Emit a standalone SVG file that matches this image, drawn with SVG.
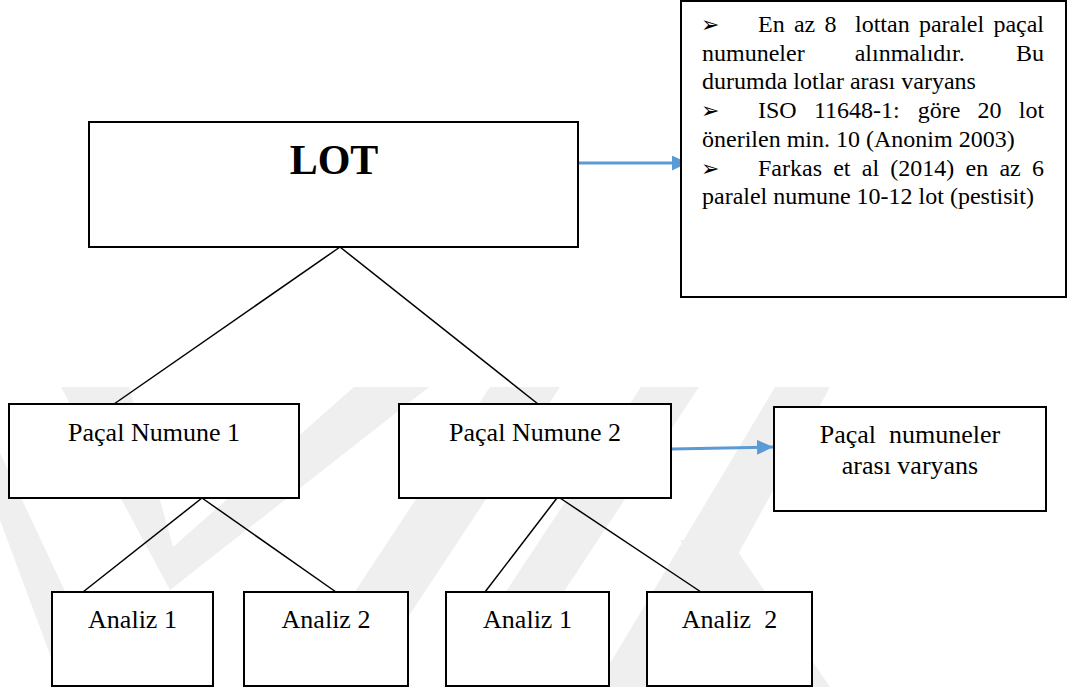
<svg xmlns="http://www.w3.org/2000/svg" width="1067" height="687" viewBox="0 0 1067 687">
  <defs>
    <style>
      .wm { fill: #efefef; stroke: none; }
      .box { fill: #ffffff; stroke: #000000; stroke-width: 2; }
      .t { font-family: 'Liberation Serif', 'Times New Roman', serif; font-size: 26px; fill: #000000; text-anchor: middle; }
      .tb { font-family: 'Liberation Serif', 'Times New Roman', serif; font-size: 24px; fill: #000000; }
      .bul { font-family: 'DejaVu Sans', sans-serif; font-size: 22px; fill: #000000; }
      .lotx { font-family: 'Liberation Serif', 'Times New Roman', serif; font-size: 42px; font-weight: bold; fill: #000000; text-anchor: middle; }
      .ln { stroke: #000000; stroke-width: 1.5; fill: none; }
      .arr { stroke: #5B9BD5; stroke-width: 3; fill: none; marker-end: url(#ah); }
    </style>
    <marker id="ah" markerUnits="userSpaceOnUse" viewBox="0 0 16 15" markerWidth="16" markerHeight="15" refX="16" refY="7.5" orient="auto">
      <path d="M0,0 L16,7.5 L0,15 z" fill="#5B9BD5"/>
    </marker>
  </defs>

  <rect width="1067" height="687" fill="#ffffff"/>

  <g id="watermark">
    <polygon class="wm" points="61,387 129,387 173,547 354,387 429,387 170,590"/>
    <polygon class="wm" points="490,387 560,387 362,687 292,687"/>
    <polygon class="wm" points="641,387 699,387 501,687 443,687"/>
    <polygon class="wm" points="775,387 830,387 665,687 596,687"/>
    <polygon class="wm" points="680,540 730,540 830,687 768,687"/>
    <polygon class="wm" points="0,453 0,520 62,687 110,687"/>
  </g>

  <g id="connectors">
    <line class="ln" x1="340" y1="247" x2="114" y2="404"/>
    <line class="ln" x1="340" y1="247" x2="538" y2="404"/>
    <line class="ln" x1="202" y1="498" x2="83" y2="592"/>
    <line class="ln" x1="202" y1="498" x2="336" y2="592"/>
    <line class="ln" x1="557" y1="498" x2="485" y2="592"/>
    <line class="ln" x1="560" y1="498" x2="701" y2="592"/>
    <line class="arr" x1="579" y1="163" x2="688" y2="163"/>
    <line class="arr" x1="672" y1="449" x2="773" y2="447"/>
  </g>

  <g id="lot">
    <rect class="box" x="89" y="122" width="489" height="125"/>
    <text class="lotx" x="334" y="174">LOT</text>
  </g>

  <g id="note">
    <rect class="box" x="681" y="1" width="385" height="296"/>
    <text class="bul" x="701" y="32">➢</text>
    <text class="tb" y="32"><tspan x="758">En</tspan><tspan x="793.9">az</tspan><tspan x="824.5">8</tspan><tspan x="855">lottan</tspan><tspan x="918.9">paralel</tspan><tspan x="993.4">paçal</tspan></text>
    <text class="tb" y="60.7"><tspan x="702">numuneler</tspan><tspan x="854.7">alınmalıdır.</tspan><tspan x="1016">Bu</tspan></text>
    <text class="tb" x="702" y="89.4">durumda lotlar arası varyans</text>
    <text class="bul" x="701" y="118">➢</text>
    <text class="tb" y="118.1"><tspan x="758">ISO</tspan><tspan x="813.9">11648-1:</tspan><tspan x="917.8">göre</tspan><tspan x="977.6">20</tspan><tspan x="1018.8">lot</tspan></text>
    <text class="tb" x="702" y="146.8">önerilen min. 10 (Anonim 2003)</text>
    <text class="bul" x="701" y="175.5">➢</text>
    <text class="tb" y="175.5"><tspan x="758">Farkas</tspan><tspan x="833.2">et</tspan><tspan x="861.8">al</tspan><tspan x="890.3">(2014)</tspan><tspan x="965.5">en</tspan><tspan x="999.4">az</tspan><tspan x="1032">6</tspan></text>
    <text class="tb" x="702" y="204.2">paralel numune 10-12 lot (pestisit)</text>
  </g>

  <g id="pacal1">
    <rect class="box" x="9" y="404" width="290" height="94"/>
    <text class="t" x="154" y="441">Paçal Numune 1</text>
  </g>

  <g id="pacal2">
    <rect class="box" x="399" y="404" width="272" height="94"/>
    <text class="t" x="535" y="441">Paçal Numune 2</text>
  </g>

  <g id="varyans">
    <rect class="box" x="774" y="407" width="272" height="104"/>
    <text class="t" x="910" y="443" xml:space="preserve">Paçal  numuneler</text>
    <text class="t" x="910" y="474">arası varyans</text>
  </g>

  <g id="analiz1a">
    <rect class="box" x="52" y="592" width="161" height="94"/>
    <text class="t" x="132.5" y="628">Analiz 1</text>
  </g>

  <g id="analiz2a">
    <rect class="box" x="244" y="592" width="164" height="94"/>
    <text class="t" x="326" y="628">Analiz 2</text>
  </g>

  <g id="analiz1b">
    <rect class="box" x="446" y="592" width="163" height="94"/>
    <text class="t" x="527.5" y="628">Analiz 1</text>
  </g>

  <g id="analiz2b">
    <rect class="box" x="647" y="592" width="165" height="94"/>
    <text class="t" x="729.5" y="628" xml:space="preserve">Analiz  2</text>
  </g>
</svg>
